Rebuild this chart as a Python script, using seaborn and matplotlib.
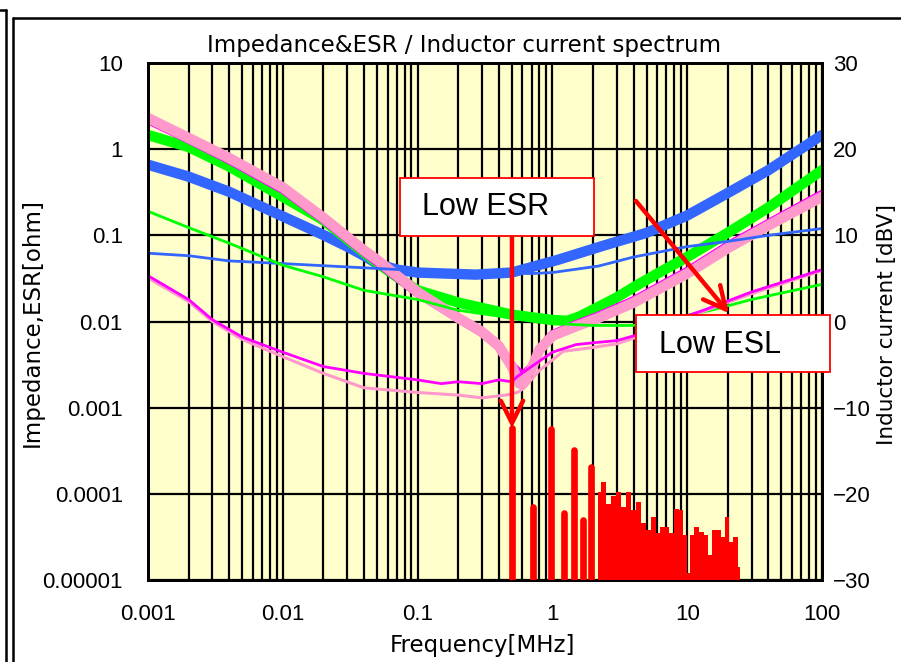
import numpy as np
import pandas as pd
import matplotlib
matplotlib.use("Agg")
import matplotlib.pyplot as plt
import seaborn as sns
from matplotlib.ticker import LogLocator, NullLocator, FixedLocator, FixedFormatter
from matplotlib.patches import Rectangle
from matplotlib.lines import Line2D

# ---------------- data (frequency in MHz) ----------------
f_blue_z = [0.001, 0.002, 0.004, 0.01, 0.02, 0.03, 0.04, 0.05, 0.07, 0.1, 0.27, 0.5, 1.1, 2.4, 5, 10, 20, 40, 100]
z_blue = [0.66, 0.48, 0.32, 0.166, 0.101, 0.074, 0.058, 0.047, 0.040, 0.037, 0.035, 0.037, 0.052, 0.076, 0.107, 0.17, 0.31, 0.57, 1.46]

f_green_z = [0.001, 0.002, 0.004, 0.01, 0.02, 0.04, 0.05, 0.07, 0.1, 0.2, 0.5, 1.0, 1.3, 1.6, 2.2, 3, 4, 6, 10, 20, 40, 100]
z_green = [1.46, 1.06, 0.63, 0.28, 0.15, 0.063, 0.048, 0.033, 0.023, 0.0166, 0.012, 0.0104, 0.0102, 0.0115, 0.0148, 0.019, 0.025, 0.036, 0.056, 0.107, 0.21, 0.57]

f_pink_z = [0.001, 0.002, 0.004, 0.01, 0.02, 0.04, 0.05, 0.1, 0.2, 0.3, 0.4, 0.5, 0.57, 0.7, 0.8, 1.0, 1.5, 2.2, 4, 10, 20, 40, 100]
z_pink = [2.3, 1.35, 0.79, 0.36, 0.16, 0.067, 0.052, 0.022, 0.011, 0.0076, 0.0052, 0.0030, 0.0019, 0.0028, 0.0047, 0.0068, 0.0088, 0.011, 0.0165, 0.036, 0.071, 0.13, 0.28]

f_mag_z = [0.001, 0.002, 0.004, 0.01, 0.02, 0.04, 0.1, 0.2, 0.3, 0.4, 0.5, 0.6, 0.7, 0.8, 1.0, 1.5, 2.2, 4, 10, 20, 40, 100]
z_mag = [2.15, 1.28, 0.74, 0.335, 0.15, 0.063, 0.021, 0.0107, 0.0073, 0.0050, 0.0031, 0.0024, 0.0030, 0.0048, 0.0072, 0.0094, 0.0118, 0.0178, 0.039, 0.077, 0.14, 0.305]

f_blue_esr = [0.001, 0.002, 0.004, 0.01, 0.04, 0.1, 0.3, 0.7, 1.0, 2.2, 4, 10, 20, 40, 100]
esr_blue = [0.062, 0.058, 0.0505, 0.047, 0.042, 0.039, 0.037, 0.036, 0.037, 0.044, 0.056, 0.074, 0.085, 0.10, 0.12]

f_green_esr = [0.001, 0.002, 0.004, 0.01, 0.02, 0.04, 0.1, 0.2, 0.5, 1.0, 2.0, 4.0, 7.0, 15, 30, 100]
esr_green = [0.19, 0.123, 0.081, 0.045, 0.033, 0.023, 0.018, 0.0135, 0.011, 0.0095, 0.009, 0.009, 0.0105, 0.0135, 0.018, 0.027]

f_mag_esr = [0.001, 0.002, 0.003, 0.005, 0.01, 0.02, 0.04, 0.1, 0.15, 0.2, 0.3, 0.4, 0.5, 0.55, 0.7, 1.0, 1.5, 2.1, 3, 5, 9, 13, 30, 100]
esr_mag = [0.034, 0.018, 0.0105, 0.0066, 0.0044, 0.0030, 0.0025, 0.0021, 0.0019, 0.0020, 0.0019, 0.0021, 0.0020, 0.0023, 0.0030, 0.0044, 0.0054, 0.0057, 0.0060, 0.0075, 0.011, 0.0134, 0.022, 0.040]

f_lpink_esr = [0.001, 0.002, 0.003, 0.005, 0.01, 0.02, 0.04, 0.1, 0.2, 0.3, 0.45, 0.55, 0.62, 0.8, 1.2, 2.0, 3, 5, 9, 13, 30, 100]
esr_lpink = [0.032, 0.017, 0.0100, 0.0062, 0.0039, 0.0025, 0.0017, 0.0015, 0.0014, 0.0013, 0.0014, 0.0015, 0.0017, 0.0027, 0.0045, 0.0050, 0.0055, 0.0072, 0.0105, 0.013, 0.021, 0.039]

# inductor current spectrum (dBV)
spec_line_f = [0.50, 0.72, 0.98, 1.22, 1.44, 1.70, 1.93]
spec_line_db = [-12.4, -21.5, -12.5, -22.2, -14.9, -23.0, -16.9]
spec_dense_f = [2.19, 2.42, 2.60, 2.83, 3.14, 3.36, 3.72, 3.98, 4.41, 4.73, 5.14, 5.67, 6.10, 6.47, 7.05, 7.68,
                8.36, 9.10, 9.63, 10.2, 10.8, 11.75, 12.8, 13.96, 14.8, 15.6, 17.0, 18.5, 19.6, 21.0, 22.6, 24.7]
spec_dense_db = [-19.75, -18.6, -21.2, -20.3, -19.75, -21.5, -19.75, -21.9, -20.9, -23.4, -24.2, -22.7, -24.6, -23.8, -23.8, -24.6,
                 -21.8, -21.9, -24.8, -29.2, -24.8, -23.8, -24.4, -24.8, -27.1, -24.2, -24.2, -25.0, -22.7, -25.6, -25.0, -28.5]

x_ticks = [0.001, 0.01, 0.1, 1, 10, 100]
x_labels = ["0.001", "0.01", "0.1", "1", "10", "100"]
y_ticks = [1e-5, 1e-4, 1e-3, 1e-2, 1e-1, 1, 10]
y_labels = ["0.00001", "0.0001", "0.001", "0.01", "0.1", "1", "10"]
y2_ticks = [-30, -20, -10, 0, 10, 20, 30]
y2_labels = ["\u221230", "\u221220", "\u221210", "0", "10", "20", "30"]

# ---------------- style ----------------
sns.set_style("white")
plt.rcParams["font.family"] = ["DejaVu Sans"]
plt.rcParams["text.color"] = "black"
plt.rcParams["xtick.color"] = "black"
plt.rcParams["ytick.color"] = "black"
plt.rcParams["xtick.labelcolor"] = "black"
plt.rcParams["ytick.labelcolor"] = "black"
TICKFONT = "Liberation Sans"

BLUE = "#3366FF"
GREEN = "#00FF00"
PINK = "#FF99CC"
MAGENTA = "#FF00FF"
RED = "#FF0000"

fig = plt.figure(figsize=(9.01, 6.62), dpi=100)
fig.patch.set_facecolor("white")
ax = fig.add_axes([148 / 901, 82 / 662, 674 / 901, 517 / 662])
ax.set_xscale("log")
ax.set_yscale("log")
ax.set_xlim(0.001, 100)
ax.set_ylim(1e-5, 10)
ax.set_facecolor("#FFFFCC")

ax.xaxis.set_major_locator(FixedLocator(x_ticks))
ax.xaxis.set_major_formatter(FixedFormatter(x_labels))
ax.xaxis.set_minor_locator(LogLocator(base=10, subs=np.arange(2, 10), numticks=100))
ax.yaxis.set_major_locator(FixedLocator(y_ticks))
ax.yaxis.set_major_formatter(FixedFormatter(y_labels))
ax.yaxis.set_minor_locator(NullLocator())
ax.set_axisbelow(True)
ax.grid(which="major", axis="both", color="black", lw=1.6)
ax.grid(which="minor", axis="x", color="black", lw=1.6)
ax.tick_params(which="both", length=0)
ax.tick_params(axis="y", pad=18, labelsize=16, labelfontfamily=TICKFONT, labelcolor="black")
ax.tick_params(axis="x", pad=17, labelsize=16, labelfontfamily=TICKFONT, labelcolor="black")

def curve(fx, fy, color, lw, z):
    df = pd.DataFrame({"f": fx, "v": fy})
    sns.lineplot(data=df, x="f", y="v", ax=ax, color=color, lw=lw, estimator=None,
                 sort=False, zorder=z, legend=False)

# thick impedance curves
curve(f_blue_z, z_blue, BLUE, 7.5, 3)
curve(f_green_z, z_green, GREEN, 7.5, 3)
curve(f_mag_z, z_mag, MAGENTA, 5.5, 3)
curve(f_pink_z, z_pink, PINK, 7.5, 4)
# thin ESR curves
curve(f_blue_esr, esr_blue, BLUE, 2, 5)
curve(f_green_esr, esr_green, GREEN, 2, 5)
curve(f_lpink_esr, esr_lpink, PINK, 2.2, 5)
curve(f_mag_esr, esr_mag, MAGENTA, 2, 5)

ax.set_xlabel("")
ax.set_ylabel("")
for s in ax.spines.values():
    s.set_color("black")
    s.set_linewidth(2)

# right axis: spectrum
ax2 = ax.twinx()
ax2.set_ylim(-30, 30)
ax2.yaxis.set_major_locator(FixedLocator(y2_ticks))
ax2.yaxis.set_major_formatter(FixedFormatter(y2_labels))
ax2.tick_params(axis="y", length=0, pad=8, labelsize=16, labelfontfamily=TICKFONT, labelcolor="black")
ax2.grid(False)
for s in ax2.spines.values():
    s.set_color("black")
    s.set_linewidth(2)

lc = ax2.vlines(spec_line_f, -30, spec_line_db, color=RED, lw=4.8, zorder=6)
lc.set_capstyle("round")
ax2.fill_between(spec_dense_f, -30, spec_dense_db, step="mid", color=RED, lw=0, zorder=6)
ax2.set_xlim(0.001, 100)

# annotations
ax2.add_patch(Rectangle((0.374, 0.665), 0.288, 0.113, transform=ax2.transAxes,
                        facecolor="white", edgecolor=RED, lw=1.3, clip_on=False, zorder=10))
ax2.text(0.501, 0.721, "Low ESR", transform=ax2.transAxes, ha="center", va="center",
         fontsize=22, family=TICKFONT, color="black", zorder=11)
ax2.annotate("", xy=(0.540, 0.294), xytext=(0.540, 0.665), xycoords="axes fraction",
             arrowprops=dict(arrowstyle="->,head_length=0.8,head_width=0.4", color=RED, lw=3.2,
                             mutation_scale=20, shrinkA=0, shrinkB=0), zorder=9)

ax2.add_patch(Rectangle((0.724, 0.402), 0.288, 0.111, transform=ax2.transAxes,
                        facecolor="white", edgecolor=RED, lw=1.3, clip_on=False, zorder=10))
ax2.text(0.849, 0.455, "Low ESL", transform=ax2.transAxes, ha="center", va="center",
         fontsize=22, family=TICKFONT, color="black", zorder=11)
ax2.annotate("", xy=(0.862, 0.516), xytext=(0.724, 0.733), xycoords="axes fraction",
             arrowprops=dict(arrowstyle="->,head_length=0.8,head_width=0.4", color=RED, lw=3.2,
                             mutation_scale=20, shrinkA=0, shrinkB=0), zorder=9)

# titles and axis labels
ax.text(0.469, 1.033, "Impedance&ESR / Inductor current spectrum", transform=ax.transAxes,
        ha="center", va="center", fontsize=16.5, color="black")
ax.text(-0.171, 0.499, "Impedance,ESR[ohm]", transform=ax.transAxes, rotation=90,
        ha="center", va="center", fontsize=16.5, color="black")
ax.text(0.497, -0.126, "Frequency[MHz]", transform=ax.transAxes,
        ha="center", va="center", fontsize=16.5, color="black")
ax2.text(1.096, 0.495, "Inductor current [dBV]", transform=ax2.transAxes, rotation=90,
         ha="center", va="center", fontsize=15.5, color="black", clip_on=False)

# page frame lines
def fline(xs, ys):
    fig.add_artist(Line2D([x / 901 for x in xs], [1 - y / 662 for y in ys],
                          transform=fig.transFigure, color="black", lw=1.8))
fline([0, 6], [10, 10])
fline([5.5, 5.5], [10, 662])
fline([13, 13], [18, 662])
fline([13, 901], [18, 18])

fig.savefig("out.png", dpi=100)
